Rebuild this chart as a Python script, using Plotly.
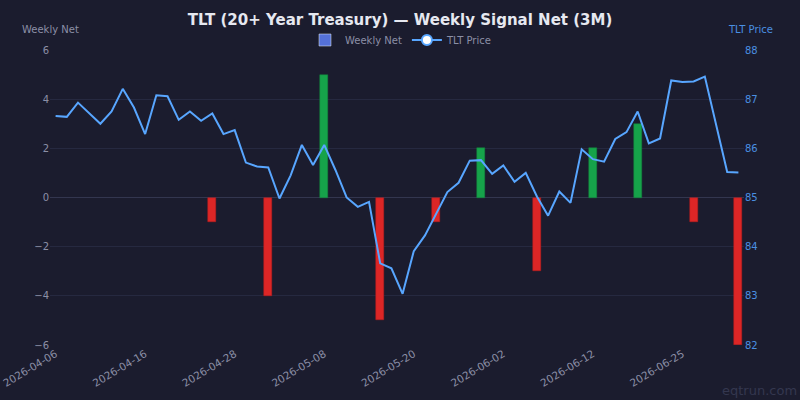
import plotly.graph_objects as go

dates = ["2026-04-06","2026-04-07","2026-04-08","2026-04-09","2026-04-10",
         "2026-04-13","2026-04-14","2026-04-15","2026-04-16","2026-04-17",
         "2026-04-20","2026-04-21","2026-04-22","2026-04-23","2026-04-24",
         "2026-04-27","2026-04-28","2026-04-29","2026-04-30","2026-05-01",
         "2026-05-04","2026-05-05","2026-05-06","2026-05-07","2026-05-08",
         "2026-05-11","2026-05-12","2026-05-13","2026-05-14","2026-05-15",
         "2026-05-18","2026-05-19","2026-05-20","2026-05-21","2026-05-22",
         "2026-05-26","2026-05-27","2026-05-28","2026-05-29","2026-06-01",
         "2026-06-02","2026-06-03","2026-06-04","2026-06-05","2026-06-08",
         "2026-06-09","2026-06-10","2026-06-11","2026-06-12","2026-06-15",
         "2026-06-16","2026-06-17","2026-06-18","2026-06-22","2026-06-23",
         "2026-06-24","2026-06-25","2026-06-26","2026-06-29","2026-06-30",
         "2026-07-01","2026-07-02"]

price = [86.66, 86.64, 86.93, 86.71, 86.50, 86.75, 87.21, 86.83, 86.29, 87.08,
         87.06, 86.58, 86.75, 86.56, 86.71, 86.29, 86.37, 85.71, 85.63, 85.61,
         84.98, 85.45, 86.07, 85.66, 86.07, 85.56, 85.00, 84.81, 84.91, 83.66,
         83.56, 83.04, 83.91, 84.23, 84.68, 85.11, 85.30, 85.75, 85.76, 85.48,
         85.65, 85.32, 85.50, 85.02, 84.63, 85.12, 84.89, 85.98, 85.78, 85.73,
         86.19, 86.33, 86.75, 86.10, 86.20, 87.38, 87.35, 87.36, 87.46, 86.50,
         85.52, 85.51]

week_dates = ["2026-04-10","2026-04-17","2026-04-24","2026-05-01","2026-05-08",
              "2026-05-15","2026-05-22","2026-05-29","2026-06-05","2026-06-12",
              "2026-06-18","2026-06-26","2026-07-02"]
week_net = [0, 0, -1, -4, 5, -5, -1, 2, -3, 2, 3, -1, -6]

tick_labels = ["2026-04-06","2026-04-16","2026-04-28","2026-05-08",
               "2026-05-20","2026-06-02","2026-06-12","2026-06-25"]

BG = "#1b1c2e"
GRID = "#262940"
TXT = "#8b8fa6"
LINE = "#58a6ff"
RTXT = "#4a90e2"
GREEN = "#16a34a"
RED = "#dc2626"

idx = {d: i for i, d in enumerate(dates)}
nz = [(idx[d], v) for d, v in zip(week_dates, week_net) if v != 0]
bx = [p[0] for p in nz]
by = [p[1] for p in nz]
bcol = [GREEN if v > 0 else RED for v in by]
bline = ["#15803d" if v > 0 else "#b91c1c" for v in by]

fig = go.Figure()
fig.add_trace(go.Bar(
    x=bx, y=by, width=0.72, marker=dict(color=bcol, line=dict(color=bline, width=0.5)),
    showlegend=False, yaxis="y", hoverinfo="skip"))
fig.add_trace(go.Scatter(
    x=list(range(len(dates))), y=price, mode="lines", yaxis="y2",
    line=dict(color=LINE, width=2), showlegend=False))
# legend entries
fig.add_trace(go.Bar(x=[None], y=[None], name="Weekly Net",
                     marker=dict(color="#5470d8"), yaxis="y"))
fig.add_trace(go.Scatter(x=[None], y=[None], name="TLT Price", mode="lines+markers",
                         line=dict(color=LINE, width=2),
                         marker=dict(color="white", size=10, line=dict(color=LINE, width=2)),
                         yaxis="y2"))

L, R, T, B = 50, 56, 50, 55
pw, ph = 800 - L - R, 400 - T - B

def px2paper(x, y):
    return (x - L) / pw, (400 - B - y) / ph

lx, ly = px2paper(401, 40)
a1 = px2paper(50, 30)
a2 = px2paper(750, 30)
a3 = px2paper(799, 390)

fig.update_layout(
    width=800, height=400,
    paper_bgcolor=BG, plot_bgcolor=BG,
    margin=dict(l=L, r=R, t=T, b=B, autoexpand=False),
    font=dict(family="DejaVu Sans", color=TXT, size=10),
    title=dict(text="<b>TLT (20+ Year Treasury) — Weekly Signal Net (3M)</b>",
               x=0.5, xanchor="center", y=1 - 19.5 / 400, yanchor="middle",
               font=dict(size=15, color="#e6e8f0")),
    legend=dict(orientation="h", x=lx, xanchor="center", y=ly, yanchor="middle",
                font=dict(size=10, color=TXT), bgcolor="rgba(0,0,0,0)",
                itemwidth=30, traceorder="normal"),
    bargap=0,
    xaxis=dict(range=[-0.5, len(dates) - 0.5], tickmode="array",
               tickvals=[idx[d] for d in tick_labels], ticktext=tick_labels,
               tickangle=-31, showgrid=False, zeroline=False, showline=False,
               ticks="", automargin=False, ticklabeloverflow="allow",
               tickfont=dict(size=10.5, color=TXT)),
    yaxis=dict(range=[-6, 6], tickvals=[-6, -4, -2, 0, 2, 4, 6], automargin=False,
               gridcolor=GRID, zeroline=True, zerolinecolor="#33364f", zerolinewidth=1,
               showline=False, ticks="", tickfont=dict(size=10, color=TXT)),
    yaxis2=dict(range=[82, 88], tickvals=[82, 83, 84, 85, 86, 87, 88], automargin=False,
                overlaying="y", side="right", showgrid=False, zeroline=False,
                showline=False, ticks="", tickfont=dict(size=10, color=RTXT)),
    annotations=[
        dict(text="Weekly Net", x=a1[0], y=a1[1], xref="paper", yref="paper",
             xanchor="center", yanchor="middle", showarrow=False,
             font=dict(size=10, color=TXT)),
        dict(text="TLT Price", x=a2[0], y=a2[1], xref="paper", yref="paper",
             xanchor="center", yanchor="middle", showarrow=False,
             font=dict(size=10, color=RTXT)),
        dict(text="eqtrun.com", x=a3[0], y=a3[1], xref="paper", yref="paper",
             xanchor="right", yanchor="middle", showarrow=False,
             font=dict(size=13, color="#34374f")),
    ],
)

fig.write_html("out.html")
